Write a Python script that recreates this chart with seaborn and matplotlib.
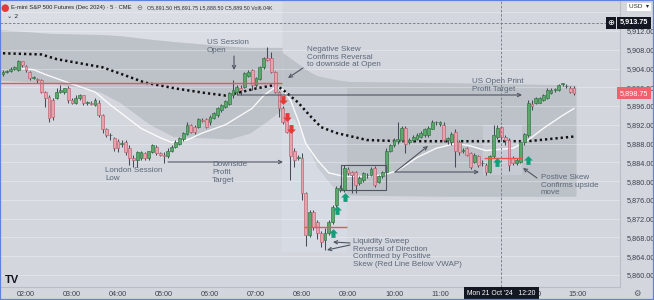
import matplotlib
matplotlib.use("Agg")
import matplotlib.pyplot as plt
import numpy as np
import pandas as pd
import seaborn as sns
from matplotlib.path import Path
from matplotlib.patches import Rectangle

# ---------------- data (5-minute bars, bar 0 = 01:30) ----------------
bar_open = [
    5902.75, 5903.25, 5903.5, 5904.0, 5903.75, 5905.5, 5904.5, 5903.25, 5902.0, 5901.75,
    5901.5, 5899.0, 5898.0, 5897.25, 5897.75, 5899.0, 5899.0, 5899.75, 5897.25, 5896.75,
    5897.75, 5898.25, 5896.75, 5896.75, 5896.25, 5896.75, 5894.0, 5891.0, 5889.75, 5889.25,
    5888.5, 5888.0, 5888.25, 5887.0, 5885.0, 5884.5, 5885.0, 5886.0, 5885.0, 5886.25,
    5887.25, 5886.0, 5885.5, 5885.25, 5886.5, 5887.25, 5888.0, 5889.0, 5890.0, 5892.0,
    5891.5, 5891.5, 5893.0, 5893.25, 5892.5, 5893.5, 5894.0, 5895.25, 5895.75, 5896.5,
    5898.25, 5899.0, 5899.75, 5900.0, 5902.5, 5903.75, 5900.5, 5901.75, 5904.25, 5906.25,
    5906.25, 5903.25, 5899.0, 5895.5, 5893.0, 5890.5, 5886.5, 5885.0, 5885.0, 5877.5,
    5868.5, 5873.5, 5871.25, 5869.0, 5867.5, 5869.0, 5871.25, 5875.0, 5878.0, 5878.0,
    5882.5, 5882.0, 5882.0, 5879.5, 5880.25, 5881.25, 5881.25, 5882.75, 5879.75, 5881.0,
    5882.0, 5886.5, 5887.75, 5888.5, 5888.75, 5891.25, 5888.25, 5888.75, 5889.0, 5889.5,
    5889.75, 5889.75, 5891.0, 5892.5, 5892.25, 5892.0, 5888.75, 5888.25, 5890.5, 5888.25,
    5886.5, 5887.0, 5886.0, 5884.0, 5885.25, 5883.75, 5883.5, 5882.0, 5885.25, 5889.5,
    5891.5, 5889.5, 5888.75, 5885.0, 5883.75, 5884.0, 5888.25, 5889.75, 5896.5, 5896.75,
    5896.75, 5897.25, 5897.75, 5898.75, 5899.5, 5899.5, 5900.75, 5900.25, 5899.75, 5899.75]
bar_close = [
    5903.25, 5903.5, 5904.0, 5904.25, 5905.5, 5904.75, 5903.75, 5902.0, 5902.0, 5901.5,
    5899.0, 5897.75, 5893.5, 5893.75, 5899.0, 5899.5, 5899.75, 5897.25, 5896.75, 5897.75,
    5898.25, 5896.75, 5896.75, 5896.5, 5897.25, 5894.0, 5891.0, 5889.75, 5889.75, 5887.0,
    5887.0, 5888.0, 5886.25, 5885.0, 5884.5, 5886.25, 5886.25, 5885.0, 5886.5, 5887.75,
    5886.0, 5885.5, 5885.25, 5886.5, 5887.25, 5888.25, 5889.25, 5890.25, 5892.0, 5890.5,
    5890.5, 5893.25, 5892.75, 5891.5, 5893.75, 5894.5, 5895.5, 5896.25, 5897.0, 5898.75,
    5899.5, 5900.0, 5899.5, 5903.0, 5903.25, 5900.5, 5902.0, 5904.25, 5906.25, 5905.75,
    5903.25, 5899.0, 5895.5, 5892.5, 5890.5, 5885.25, 5884.5, 5885.0, 5877.5, 5868.5,
    5873.5, 5870.25, 5869.0, 5867.0, 5869.0, 5871.25, 5874.5, 5878.5, 5878.5, 5882.75,
    5881.75, 5881.25, 5879.25, 5880.75, 5881.75, 5881.25, 5882.5, 5879.25, 5881.0, 5882.0,
    5886.5, 5887.75, 5888.75, 5889.0, 5891.25, 5888.0, 5888.75, 5889.5, 5889.75, 5890.25,
    5891.0, 5891.25, 5892.5, 5892.5, 5892.5, 5888.75, 5889.25, 5890.0, 5886.5, 5886.25,
    5886.5, 5885.5, 5883.0, 5885.5, 5883.5, 5883.75, 5882.0, 5885.25, 5889.75, 5891.25,
    5889.5, 5888.75, 5883.5, 5883.75, 5884.5, 5888.25, 5890.0, 5896.75, 5896.0, 5897.75,
    5897.75, 5898.25, 5899.5, 5899.5, 5899.5, 5900.5, 5900.75, 5900.25, 5899.0, 5898.75]
bar_high = [
    5903.75, 5903.75, 5904.25, 5904.5, 5905.75, 5905.5, 5904.75, 5903.5, 5902.5, 5902.0,
    5901.75, 5899.25, 5898.25, 5897.75, 5899.75, 5900.5, 5899.75, 5900.25, 5897.75, 5898.25,
    5898.5, 5898.25, 5897.0, 5897.0, 5897.75, 5897.25, 5894.25, 5891.25, 5890.25, 5889.5,
    5889.0, 5888.75, 5888.75, 5887.75, 5885.5, 5886.5, 5886.5, 5886.25, 5886.5, 5888.0,
    5887.75, 5886.25, 5886.25, 5887.0, 5887.75, 5888.75, 5889.5, 5890.5, 5892.5, 5892.25,
    5892.0, 5893.5, 5893.5, 5893.5, 5894.0, 5894.75, 5895.75, 5896.5, 5897.25, 5899.0,
    5901.5, 5900.5, 5900.5, 5903.25, 5903.75, 5904.0, 5902.25, 5904.5, 5906.5, 5908.5,
    5907.5, 5903.5, 5899.25, 5896.0, 5893.25, 5890.75, 5887.0, 5885.5, 5886.0, 5877.75,
    5873.75, 5873.75, 5871.75, 5869.25, 5870.0, 5871.75, 5875.0, 5879.0, 5879.25, 5883.5,
    5883.0, 5882.25, 5882.25, 5881.0, 5882.0, 5881.75, 5883.0, 5883.25, 5881.25, 5882.25,
    5887.0, 5888.0, 5889.25, 5892.5, 5891.75, 5891.75, 5889.25, 5889.75, 5890.25, 5890.75,
    5891.25, 5891.75, 5893.0, 5892.75, 5892.75, 5892.5, 5889.5, 5890.5, 5891.0, 5888.75,
    5887.0, 5887.25, 5886.25, 5886.0, 5885.5, 5884.5, 5883.75, 5885.5, 5892.0, 5892.0,
    5891.75, 5889.75, 5889.25, 5885.25, 5885.0, 5888.75, 5890.25, 5897.25, 5897.25, 5898.0,
    5898.0, 5898.5, 5899.75, 5899.75, 5899.75, 5900.75, 5901.0, 5900.75, 5900.25, 5900.25]
bar_low = [
    5902.5, 5903.0, 5903.25, 5903.75, 5903.5, 5904.25, 5903.25, 5901.5, 5901.75, 5901.0,
    5898.75, 5895.75, 5892.5, 5893.0, 5897.5, 5898.75, 5898.5, 5896.75, 5896.5, 5896.5,
    5897.25, 5896.25, 5896.25, 5896.25, 5896.0, 5893.75, 5890.25, 5889.5, 5888.75, 5886.5,
    5886.25, 5887.25, 5885.5, 5883.5, 5883.0, 5883.0, 5884.5, 5884.5, 5884.5, 5886.0,
    5885.5, 5885.25, 5883.75, 5885.0, 5886.25, 5887.0, 5887.75, 5888.5, 5889.75, 5890.25,
    5890.0, 5891.25, 5892.5, 5891.25, 5892.0, 5893.25, 5893.75, 5894.75, 5895.5, 5896.25,
    5897.75, 5898.25, 5898.25, 5899.75, 5902.25, 5899.5, 5900.0, 5901.5, 5904.0, 5905.5,
    5903.0, 5898.75, 5893.75, 5892.25, 5890.25, 5880.25, 5883.0, 5884.5, 5876.0, 5866.25,
    5868.0, 5869.5, 5867.75, 5866.0, 5865.25, 5868.5, 5870.75, 5874.5, 5877.75, 5877.75,
    5881.25, 5877.5, 5877.5, 5879.25, 5879.75, 5880.75, 5881.0, 5878.75, 5879.5, 5880.75,
    5881.5, 5886.25, 5887.25, 5888.0, 5888.25, 5886.0, 5888.0, 5888.25, 5888.75, 5889.25,
    5889.5, 5889.5, 5891.0, 5892.0, 5891.75, 5888.25, 5888.0, 5887.75, 5883.0, 5885.5,
    5886.0, 5885.25, 5882.5, 5883.75, 5883.0, 5883.25, 5881.25, 5881.75, 5885.0, 5889.0,
    5888.5, 5887.75, 5882.25, 5883.5, 5883.5, 5883.75, 5887.75, 5889.5, 5895.25, 5896.5,
    5896.75, 5897.0, 5897.5, 5898.5, 5899.0, 5899.25, 5900.25, 5899.75, 5898.75, 5898.25]

time_tick_bars = [6, 18, 30, 42, 54, 66, 78, 90, 102, 114, 126, 138, 150]
time_tick_labels = ["02:00", "03:00", "04:00", "05:00", "06:00", "07:00", "08:00",
                    "09:00", "10:00", "11:00", "", "13:00", "15:00"]
price_ticks = [5860, 5864, 5868, 5872, 5876, 5880, 5884, 5888, 5892, 5896, 5900, 5904, 5908, 5912, 5916]
price_tick_labels = ["5,860.00", "5,864.00", "5,868.00", "5,872.00", "5,876.00", "5,880.00",
                     "5,884.00", "5,888.00", "5,892.00", "5,896.00", "5,900.00", "5,904.00",
                     "5,908.00", "5,912.00", ""]

# session VWAP (white line)
vwap_bar = [5, 8, 11, 17, 24, 28, 32, 36, 41, 44, 48, 52, 58, 62, 65, 68, 71, 73, 75, 77, 79,
            82, 85, 89, 93, 99, 103, 108, 113, 118, 122, 126, 133, 137, 141, 146, 149]
vwap_price = [5904.0, 5903.75, 5902.75, 5901.0, 5899.0, 5896.25, 5893.75, 5891.25, 5889.25,
              5888.25, 5888.75, 5890.25, 5892.0, 5894.0, 5895.5, 5898.25, 5900.0, 5899.5,
              5897.25, 5893.0, 5888.0, 5884.5, 5881.75, 5881.0, 5881.0, 5881.25, 5882.25,
              5885.0, 5887.0, 5888.0, 5887.5, 5886.5, 5887.0, 5888.75, 5891.25, 5894.0, 5895.5]
# dotted average line
ma_bar = [0, 10, 14, 26, 32, 37, 45, 53, 58, 61, 66, 71, 73, 77, 80, 83, 87, 95, 104, 137, 149]
ma_price = [5907.25, 5907.0, 5906.0, 5904.25, 5902.5, 5901.0, 5899.75, 5898.75, 5898.25,
            5898.75, 5899.75, 5900.5, 5899.5, 5896.75, 5894.0, 5891.5, 5890.25, 5888.75,
            5888.5, 5888.5, 5889.5]
# deviation band, overnight session and US session
band1_bar = [-0.8, 12.3, 25.3, 30.5, 38.4, 44.4, 59.2, 64.4, 68.4, 72.8]
band1_upper = [5912.25, 5911.5, 5911.25, 5911.0, 5910.25, 5909.75, 5908.75, 5908.5, 5908.5, 5908.5]
band1_lower = [5901.5, 5901.0, 5899.0, 5896.75, 5892.0, 5889.5, 5889.0, 5890.25, 5892.5, 5895.25]
band2_bar = [72.8, 76.2, 77.5, 80.1, 81.9, 86.1, 87.9, 90.5, 116.6, 149.5]
band2_upper = [5907.5, 5905.5, 5904.75, 5903.25, 5902.5, 5901.75, 5901.5, 5901.25, 5901.0, 5900.5]
band2_lower = [5895.25, 5893.0, 5891.0, 5886.25, 5883.0, 5878.75, 5878.0, 5877.0, 5876.75, 5876.75]

# red horizontal level lines
red_level_price = [5901.0, 5870.25, 5885.0]
red_level_start = [-0.8, 78.5, 125.5]
red_level_end = [72.8, 89.7, 135.4]
# skew signal arrows
down_sig_bar = [73.0, 74.2, 75.1]
down_sig_price = [5897.25, 5893.75, 5891.0]
up_sig_bar = [86.0, 87.1, 89.2, 128.9, 137.0]
up_sig_price = [5869.0, 5873.75, 5876.5, 5884.0, 5884.5]

last_price = 5898.75
cross_price = 5913.75
cross_bar = 130

# ---------------- style ----------------
sns.set_theme(style="white")
FONT = ["Liberation Sans", "DejaVu Sans"]
plt.rcParams["font.family"] = FONT

BG = "#d3d6dd"
BAND = "#bdc1c8"
TOPLIGHT = "#dadde3"
GREEN_F, GREEN_E = "#5aa86c", "#2f7040"
RED_F, RED_E = "#e9a1ac", "#b95f6e"
WICK = "#464b58"
ANN = "#5c6878"
ARROW = "#4f5561"

W, H = 654, 300
PX_BAR = 3.833


def bx(px):
    return (px - 3) / PX_BAR


def py(pv):
    return 5918.61 - pv * 4 / 18.76


fig = plt.figure(figsize=(W / 100, H / 100), dpi=100)
fig.patch.set_facecolor(BG)
ax = fig.add_axes([0, 13 / H, 620 / W, 287 / H])
ax.set_facecolor(BG)
ax.set_xlim(bx(0), bx(620))
ax.set_ylim(py(287), py(0))

# backgrounds / bands
b1 = np.array(band1_bar)
ax.fill_between(b1, band1_upper, py(0), color=TOPLIGHT, lw=0, zorder=0.5)
ax.fill_between(b1, band1_lower, band1_upper, color=BAND, lw=0, zorder=0.6)
ax.fill_between(np.array(band2_bar), band2_lower, band2_upper, color=BAND, lw=0, zorder=0.6)
ax.add_patch(Rectangle((bx(282), py(252)), bx(347) - bx(282), py(88) - py(252),
                       facecolor="#dfe8f2", alpha=0.3, lw=0, zorder=0.7))
ax.add_patch(Rectangle((bx(483), py(175)), bx(522) - bx(483), py(125) - py(175),
                       facecolor="#dfe8f2", alpha=0.3, lw=0, zorder=0.7))

# grid
for p in price_ticks:
    ax.axhline(p, color="white", alpha=0.35, lw=0.6, zorder=0.9)

# lines via seaborn
sns.lineplot(x=vwap_bar, y=vwap_price, ax=ax, color="white", lw=1.0, alpha=0.9, zorder=2)
sns.lineplot(x=ma_bar, y=ma_price, ax=ax, color="#111111", lw=1.8,
             linestyle=(0, (0.9, 1.2)), zorder=3)

# candles
o = np.array(bar_open); c = np.array(bar_close)
hi = np.maximum(np.array(bar_high), np.maximum(o, c))
lo = np.minimum(np.array(bar_low), np.minimum(o, c))
xs = np.arange(len(o))
up = c >= o
body_b = np.minimum(o, c)
body_h = np.maximum(np.abs(c - o), 0.12)
ax.vlines(xs, lo, hi, color=WICK, lw=0.75, zorder=4)
ax.bar(xs[up], body_h[up], bottom=body_b[up], width=0.72, color=GREEN_F,
       edgecolor=GREEN_E, lw=0.45, zorder=5)
ax.bar(xs[~up], body_h[~up], bottom=body_b[~up], width=0.72, color=RED_F,
       edgecolor=RED_E, lw=0.45, zorder=5)

# red level lines
for p, s, e in zip(red_level_price, red_level_start, red_level_end):
    ax.hlines(p, s, e, color="#ef5350", lw=1.0, zorder=6)

# signal arrows
up_verts = [(-0.28, -0.6), (0.28, -0.6), (0.28, 0.0), (0.6, 0.0), (0.0, 0.6),
            (-0.6, 0.0), (-0.28, 0.0), (-0.28, -0.6)]
codes = [Path.MOVETO] + [Path.LINETO] * 6 + [Path.CLOSEPOLY]
up_marker = Path(up_verts, codes)
down_marker = Path([(vx, -vy) for vx, vy in up_verts], codes)
ax.scatter(down_sig_bar, down_sig_price, marker=down_marker, s=40, color="#e53935",
           lw=0, zorder=7)
ax.scatter(up_sig_bar, up_sig_price, marker=up_marker, s=40, color="#10a07a", lw=0, zorder=7)

# drawings: arrows and box
def arr(x0, y0, x1, y1):
    ax.annotate("", xy=(bx(x1), py(y1)), xytext=(bx(x0), py(y0)),
                arrowprops=dict(arrowstyle="->", color=ARROW, lw=0.8,
                                mutation_scale=6, shrinkA=0, shrinkB=0), zorder=8)

arr(238, 95, 522, 95)
arr(168, 162, 283, 162)
arr(395, 172, 428, 146)
arr(395, 172, 479, 172)
arr(350, 243, 333, 242)
arr(350, 245, 327, 250)
arr(303, 68, 288, 78)
arr(234, 56, 234, 70)
arr(537, 178, 523, 168)
ax.add_patch(Rectangle((bx(341), py(190)), bx(386) - bx(341), py(165) - py(190),
                       fill=False, edgecolor=ARROW, lw=0.8, zorder=8))

# crosshair
ax.axvline(cross_bar, color="#70757f", lw=0.6, ls=(0, (3, 2)), zorder=9)
ax.axhline(cross_price, color="#70757f", lw=0.6, ls=(0, (3, 2)), zorder=9)

# annotation texts
def note(x, y, s):
    ax.text(bx(x), py(y), s, color=ANN, fontsize=5.8, ha="left", va="top",
            linespacing=1.15, zorder=10)

note(207, 39, "US Session\nOpen")
note(307, 46, "Negative Skew\nConfirms Reversal\nto downside at Open")
note(472, 78, "US Open Print\nProfit Target")
note(105, 167, "London Session\nLow")
note(212, 161, "Downside\nProfit\nTarget")
note(353, 238, "Liquidity Sweep\nReversal of Direction\nConfirmed by Positive\nSkew (Red Line Below VWAP)")
note(541, 174, "Postive Skew\nConfirms upside\nmove")

# axes: right price scale, bottom time scale
ax.yaxis.tick_right()
ax.set_yticks(price_ticks)
ax.set_yticklabels(price_tick_labels)
ax.set_xticks(time_tick_bars)
ax.set_xticklabels(time_tick_labels)
ax.tick_params(axis="y", length=0, pad=5, labelsize=5.2, labelcolor="#3b404c")
ax.tick_params(axis="x", length=0, pad=3, labelsize=5.2, labelcolor="#3b404c")
for side in ["top", "left"]:
    ax.spines[side].set_visible(False)
for side in ["right", "bottom"]:
    ax.spines[side].set_color("#b9bdc5")
    ax.spines[side].set_linewidth(0.8)
ax.set_xlabel(""); ax.set_ylabel("")

# price labels on the scale
ax.text(1.0, last_price, f"{last_price:,.2f}", transform=ax.get_yaxis_transform(),
        ha="left", va="center", fontsize=5.2, color="white", zorder=20, clip_on=False,
        bbox=dict(boxstyle="square,pad=0.35", fc="#f0606d", ec="none"))
ax.text(1.0, cross_price, f"{cross_price:,.2f}", transform=ax.get_yaxis_transform(),
        ha="left", va="center", fontsize=5.2, color="white", fontweight="bold",
        zorder=20, clip_on=False,
        bbox=dict(boxstyle="square,pad=0.35", fc="#131722", ec="none"))
ax.text(bx(611), cross_price, "⊕", ha="center", va="center", fontsize=6, color="white",
        family=["DejaVu Sans"], zorder=20,
        bbox=dict(boxstyle="square,pad=0.15", fc="#131722", ec="none"))
ax.text(cross_bar, -0.022, "Mon 21 Oct '24   12:20", transform=ax.get_xaxis_transform(),
        ha="center", va="center", fontsize=4.9, color="white", zorder=20, clip_on=False,
        bbox=dict(boxstyle="square,pad=0.45", fc="#131722", ec="none"))

# header and corner items
fig.text(5 / W, 1 - 7.5 / H, "●", color="#e53935", fontsize=7, ha="center", va="center",
         family=["DejaVu Sans"])
fig.text(11 / W, 1 - 7.5 / H, "E-mini S&P 500 Futures (Dec 2024) · 5 · CME",
         fontsize=4.2, color="#1f2430", ha="left", va="center")
fig.text(139 / W, 1 - 7.5 / H, "⊖", fontsize=5, color="#6b7080", ha="center",
         va="center", family=["DejaVu Sans"])
fig.text(147 / W, 1 - 7.5 / H, "O5,891.50 H5,891.75 L5,888.50 C5,889.50 Vol6.04K",
         fontsize=3.8, color="#2a2e39", ha="left", va="center")
fig.text(7 / W, 1 - 16 / H, "⌄ 2", fontsize=4.5, color="#2a2e39", ha="left", va="center",
         family=["DejaVu Sans"])
fig.text(639 / W, 1 - 7 / H, "USD  ▾", fontsize=4.6, color="#2a2e39", ha="center",
         va="center", family=FONT,
         bbox=dict(boxstyle="square,pad=0.3", fc="white", ec="none"))
fig.text(12 / W, 1 - 280 / H, "TV", fontsize=8, fontweight="bold", color="#131722",
         ha="center", va="center")
fig.text(637 / W, 1 - 293 / H, "⚙", fontsize=6, color="#555a66", ha="center",
         va="center", family=["DejaVu Sans"])

# window frame
fig.add_artist(Rectangle((0, 0), 1, 1, transform=fig.transFigure, fill=False,
                         edgecolor="#5f82dc", lw=1.6))

fig.savefig("out.png", dpi=100, facecolor=fig.get_facecolor())
